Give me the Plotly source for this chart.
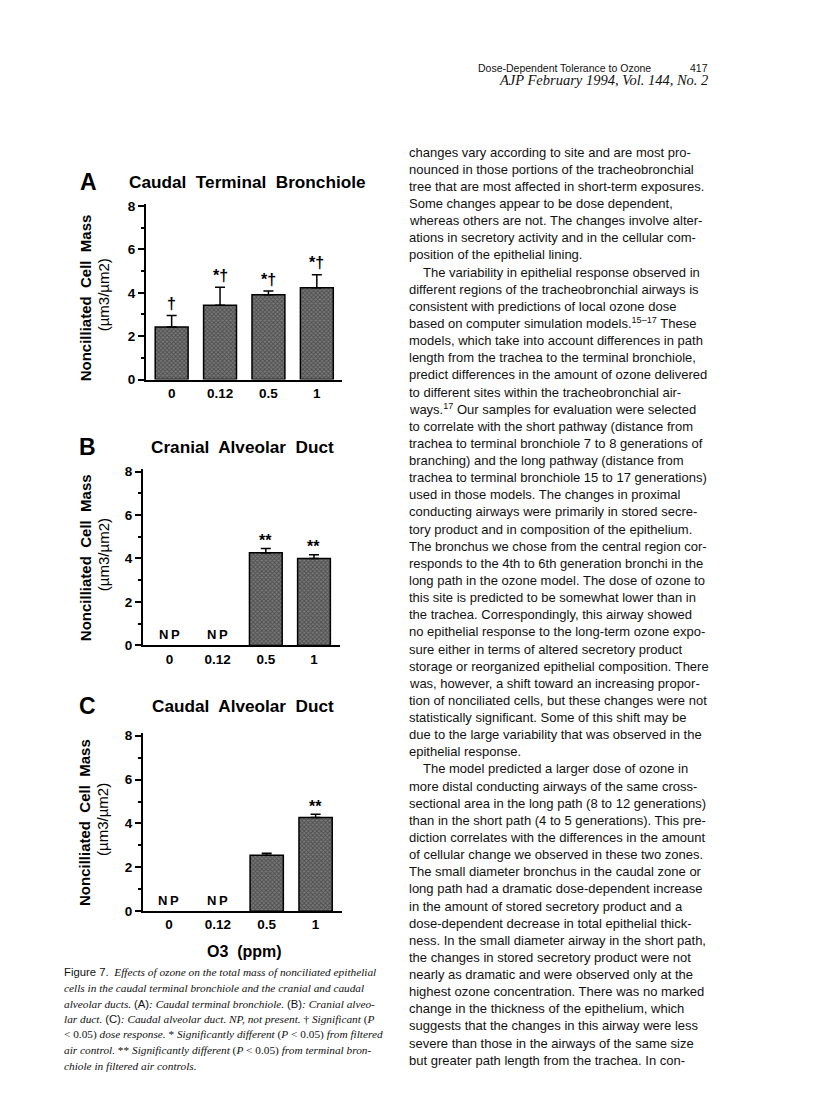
import plotly.graph_objects as go

# ---------------- data ----------------
categories = ["0", "0.12", "0.5", "1"]

a_mean = [2.42, 3.43, 3.91, 4.23]
a_err = [0.53, 0.83, 0.17, 0.60]
a_sig = ["†", "*†", "*†", "*†"]

b_mean = [None, None, 4.26, 4.00]
b_err = [None, None, 0.20, 0.17]
b_sig = ["", "", "**", "**"]

c_mean = [None, None, 2.55, 4.27]
c_err = [None, None, 0.09, 0.15]
c_sig = ["", "", "", "**"]

panel_letters = ["A", "B", "C"]
panel_titles = ["Caudal\u00a0 Terminal\u00a0 Bronchiole",
                "Cranial\u00a0 Alveolar\u00a0 Duct",
                "Caudal\u00a0 Alveolar\u00a0 Duct"]
y_title_1 = "Noncilliated\u00a0 Cell\u00a0 Mass"
y_title_2 = "(\u00b5m3/\u00b5m2)"
x_title = "O3\u00a0 (ppm)"
y_ticks = [0, 2, 4, 6, 8]
y_minor = [1, 3, 5, 7]

header_1 = "Dose-Dependent Tolerance to Ozone"
header_page = "417"
header_2 = "AJP February 1994, Vol. 144, No. 2"

SANS = "Liberation Sans"
SERIF = "Liberation Serif"

caption_lines = [
    "<span style='font-family:Liberation Sans'>Figure 7.</span>  <i>Effects of ozone on the total mass of nonciliated epithelial</i>",
    "<i>cells in the caudal terminal bronchiole and the cranial and caudal</i>",
    "<i>alveolar ducts.</i> <span style='font-family:Liberation Sans'>(A)</span><i>: Caudal terminal bronchiole.</i> <span style='font-family:Liberation Sans'>(B)</span><i>: Cranial alveo-</i>",
    "<i>lar duct.</i> <span style='font-family:Liberation Sans'>(C)</span><i>: Caudal alveolar duct. NP, not present.</i> † <i>Significant</i> (<i>P</i>",
    "< 0.05) <i>dose response.</i> * <i>Significantly different</i> (<i>P</i> < 0.05) <i>from filtered</i>",
    "<i>air control.</i> ** <i>Significantly different</i> (<i>P</i> < 0.05) <i>from terminal bron-</i>",
    "<i>chiole in filtered air controls.</i>",
]

body_lines = [
    (0, "changes vary according to site and are most pro-"),
    (0, "nounced in those portions of the tracheobronchial"),
    (0, "tree that are most affected in short-term exposures."),
    (0, "Some changes appear to be dose dependent,"),
    (0, "whereas others are not. The changes involve alter-"),
    (0, "ations in secretory activity and in the cellular com-"),
    (0, "position of the epithelial lining."),
    (1, "The variability in epithelial response observed in"),
    (0, "different regions of the tracheobronchial airways is"),
    (0, "consistent with predictions of local ozone dose"),
    (0, "based on computer simulation models.<sup>15\u201317</sup> These"),
    (0, "models, which take into account differences in path"),
    (0, "length from the trachea to the terminal bronchiole,"),
    (0, "predict differences in the amount of ozone delivered"),
    (0, "to different sites within the tracheobronchial air-"),
    (0, "ways.<sup>17</sup> Our samples for evaluation were selected"),
    (0, "to correlate with the short pathway (distance from"),
    (0, "trachea to terminal bronchiole 7 to 8 generations of"),
    (0, "branching) and the long pathway (distance from"),
    (0, "trachea to terminal bronchiole 15 to 17 generations)"),
    (0, "used in those models. The changes in proximal"),
    (0, "conducting airways were primarily in stored secre-"),
    (0, "tory product and in composition of the epithelium."),
    (0, "The bronchus we chose from the central region cor-"),
    (0, "responds to the 4th to 6th generation bronchi in the"),
    (0, "long path in the ozone model. The dose of ozone to"),
    (0, "this site is predicted to be somewhat lower than in"),
    (0, "the trachea. Correspondingly, this airway showed"),
    (0, "no epithelial response to the long-term ozone expo-"),
    (0, "sure either in terms of altered secretory product"),
    (0, "storage or reorganized epithelial composition. There"),
    (0, "was, however, a shift toward an increasing propor-"),
    (0, "tion of nonciliated cells, but these changes were not"),
    (0, "statistically significant. Some of this shift may be"),
    (0, "due to the large variability that was observed in the"),
    (0, "epithelial response."),
    (1, "The model predicted a larger dose of ozone in"),
    (0, "more distal conducting airways of the same cross-"),
    (0, "sectional area in the long path (8 to 12 generations)"),
    (0, "than in the short path (4 to 5 generations). This pre-"),
    (0, "diction correlates with the differences in the amount"),
    (0, "of cellular change we observed in these two zones."),
    (0, "The small diameter bronchus in the caudal zone or"),
    (0, "long path had a dramatic dose-dependent increase"),
    (0, "in the amount of stored secretory product and a"),
    (0, "dose-dependent decrease in total epithelial thick-"),
    (0, "ness. In the small diameter airway in the short path,"),
    (0, "the changes in stored secretory product were not"),
    (0, "nearly as dramatic and were observed only at the"),
    (0, "highest ozone concentration. There was no marked"),
    (0, "change in the thickness of the epithelium, which"),
    (0, "suggests that the changes in this airway were less"),
    (0, "severe than those in the airways of the same size"),
    (0, "but greater path length from the trachea. In con-"),
]

# ---------------- layout helpers (page pixel -> paper) ----------------
OFF = 8                      # html body margin on every side
W, H = 816 - 2 * OFF, 1110 - 2 * OFF
V_GAIN, V_SHIFT = 0.985, 6.7   # measured vertical mapping of the photographed page
def px(x):
    return (x - OFF) / W
def py(y):
    ys = (y - V_SHIFT) / V_GAIN
    return 1 - (ys - OFF) / H
TXT = 0

# panel geometry in page pixels: (x_left, x_right, y_top, y_bottom, x_range)
panels = [
    (146, 342, 204.8, 380.0, [-0.53, 3.52]),
    (143, 340, 469.5, 645.0, [-0.55, 3.54]),
    (143, 342, 732.8, 910.0, [-0.53, 3.54]),
]
letter_pos = [(88, 183), (87, 447), (87, 705)]
title_pos = [(247, 183), (242, 447), (243, 705)]
ytitle_y = [299, 558, 822]

means = [a_mean, b_mean, c_mean]
errs = [a_err, b_err, c_err]
sigs = [a_sig, b_sig, c_sig]

fig = go.Figure()
annotations = []
layout_axes = {}

BAR_FILL = "#787878"

for i in range(3):
    xl, xr, yt, yb, xrange = panels[i]
    xa = "x" if i == 0 else f"x{i+1}"
    ya = "y" if i == 0 else f"y{i+1}"
    xkey = "xaxis" if i == 0 else f"xaxis{i+1}"
    ykey = "yaxis" if i == 0 else f"yaxis{i+1}"

    fig.add_trace(go.Bar(
        x=categories, y=means[i], xaxis=xa, yaxis=ya, width=0.68,
        marker=dict(color=BAR_FILL, line=dict(color="black", width=1.5),
                    pattern=dict(shape="x", fgcolor="#222222", size=3, solidity=0.5)),
        error_y=dict(type="data", array=errs[i],
                     arrayminus=[0 if e is not None else None for e in errs[i]],
                     symmetric=False, color="black", thickness=1.5, width=5),
        showlegend=False, hoverinfo="skip",
    ))

    layout_axes[xkey] = dict(
        domain=[px(xl), px(xr)], anchor=ya, type="category",
        categoryorder="array", categoryarray=categories,
        range=xrange, showline=True, linecolor="black", linewidth=2,
        ticks="", showgrid=False, zeroline=False,
        tickfont=dict(family=SANS, size=13.5, color="black", weight="bold"),
        ticklabelstandoff=0,
    )
    layout_axes[ykey] = dict(
        domain=[py(yb), py(yt)], anchor=xa, range=[0, 8.1],
        tickvals=y_ticks, ticks="outside", ticklen=6, tickwidth=1.5,
        tickcolor="black", showline=True, linecolor="black", linewidth=2,
        showgrid=False, zeroline=False,
        minor=dict(tickvals=y_minor, ticks="outside", ticklen=3,
                   tickwidth=1.5, tickcolor="black"),
        tickfont=dict(family=SANS, size=13.5, color="black", weight="bold"),
    )

    # significance markers / not-present labels (category index positions)
    for idx, (m, e, s) in enumerate(zip(means[i], errs[i], sigs[i])):
        if s and m is not None:
            annotations.append(dict(
                x=idx, y=m + e, xref=xa, yref=ya, text=s, showarrow=False,
                yanchor="middle", yshift=(8 if s == "**" else 12),
                font=dict(family=SANS, size=16, color="black", weight="bold"),
            ))
        elif m is None:
            annotations.append(dict(
                x=idx, y=0, xref=xa, yref=ya, text="N\u2009P", showarrow=False,
                yanchor="middle", yshift=11,
                font=dict(family=SANS, size=13, color="black", weight="bold"),
            ))

    # panel letter & title
    lx, ly = letter_pos[i]
    annotations.append(dict(x=px(lx), y=py(ly + TXT), xref="paper", yref="paper",
                            text=panel_letters[i], showarrow=False,
                            xanchor="center", yanchor="middle",
                            font=dict(family=SANS, size=23, color="black", weight="bold")))
    tx, ty = title_pos[i]
    annotations.append(dict(x=px(tx), y=py(ty + TXT), xref="paper", yref="paper",
                            text=panel_titles[i], showarrow=False,
                            xanchor="center", yanchor="middle",
                            font=dict(family=SANS, size=17.2, color="black", weight="bold")))
    # y titles
    annotations.append(dict(x=px(85), y=py(ytitle_y[i]), xref="paper", yref="paper",
                            text=y_title_1, showarrow=False, textangle=-90,
                            xanchor="center", yanchor="middle",
                            font=dict(family=SANS, size=15, color="black", weight="bold")))
    annotations.append(dict(x=px(103), y=py(ytitle_y[i] - 3), xref="paper", yref="paper",
                            text=y_title_2, showarrow=False, textangle=-90,
                            xanchor="center", yanchor="middle",
                            font=dict(family=SANS, size=15, color="black")))

# x-axis title (bottom panel)
annotations.append(dict(x=px(244), y=py(950 + TXT), xref="paper", yref="paper",
                        text=x_title, showarrow=False, xanchor="center", yanchor="middle",
                        font=dict(family=SANS, size=16, color="black", weight="bold")))

# caption
for k, line in enumerate(caption_lines):
    annotations.append(dict(x=px(62), y=py(971 + k * 15.5 + TXT), xref="paper", yref="paper",
                            text=line, showarrow=False, xanchor="left", yanchor="middle",
                            font=dict(family=SERIF, size=11.3, color="#111")))

# header
annotations.append(dict(x=px(653), y=py(69 + TXT), xref="paper", yref="paper",
                        text=header_1, showarrow=False, xanchor="right", yanchor="middle",
                        font=dict(family=SANS, size=10.5, color="#111")))
annotations.append(dict(x=px(710), y=py(69 + TXT), xref="paper", yref="paper",
                        text=header_page, showarrow=False, xanchor="right", yanchor="middle",
                        font=dict(family=SANS, size=10.5, color="#111")))
annotations.append(dict(x=px(710), y=py(81 + TXT), xref="paper", yref="paper",
                        text="<i>" + header_2 + "</i>", showarrow=False,
                        xanchor="right", yanchor="middle",
                        font=dict(family=SERIF, size=14.5, color="#111")))

# body text
for k, (indent, line) in enumerate(body_lines):
    annotations.append(dict(x=px(407 + 14 * indent), y=py(153.3 + k * 17.08 + TXT),
                            xref="paper", yref="paper", text=line, showarrow=False,
                            xanchor="left", yanchor="middle",
                            font=dict(family=SANS, size=13, color="#111")))

fig.update_layout(
    width=W, height=H, margin=dict(l=0, r=0, t=0, b=0),
    paper_bgcolor="white", plot_bgcolor="white", showlegend=False,
    annotations=annotations, bargap=0.3,
    **layout_axes,
)

fig.write_html("out.html")
